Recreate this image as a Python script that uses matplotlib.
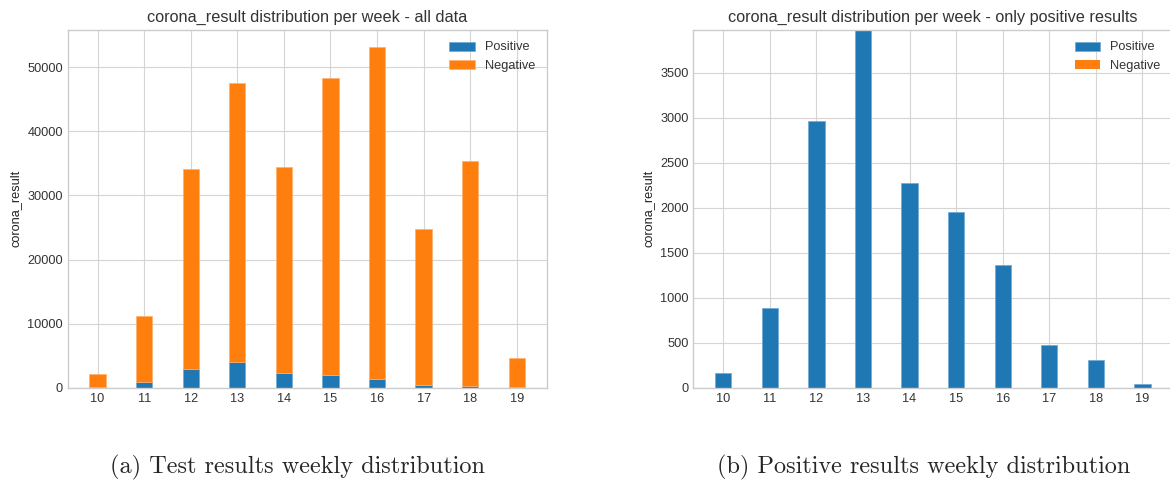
import matplotlib
matplotlib.use("Agg")
import matplotlib.pyplot as plt
import numpy as np

weeks = [10, 11, 12, 13, 14, 15, 16, 17, 18, 19]
positive = [163, 881, 2959, 3972, 2270, 1948, 1367, 474, 304, 44]
negative = [1970, 10302, 31163, 43518, 32216, 46322, 51803, 24337, 35067, 4533]
# only-positive subset: negative counts are zero
negative_pos_only = [0, 0, 0, 0, 0, 0, 0, 0, 0, 0]
titles = ["corona_result distribution per week - all data",
          "corona_result distribution per week - only positive results"]
captions = ["(a) Test results weekly distribution",
            "(b) Positive results weekly distribution"]
series_labels = ["Positive", "Negative"]
ylabel = "corona_result"

plt.style.use("seaborn-v0_8-whitegrid")
W, H = 1170, 480
fig = plt.figure(figsize=(W / 100, H / 100), dpi=100)

ax_l = fig.add_axes([67.7 / W, (H - 387.7) / H, 479 / W, 357.7 / H])
ax_r = fig.add_axes([693.3 / W, (H - 387.7) / H, 479 / W, 357.7 / H])

blue = "#1f77b4"
orange = "#ff7f0e"
fs = 9.2

for i, (ax, neg) in enumerate([(ax_l, negative), (ax_r, negative_pos_only)]):
    ax.bar(weeks, positive, width=0.35, color=blue, label=series_labels[0],
           edgecolor="#6fa8d6", linewidth=0.5)
    ax.bar(weeks, neg, width=0.35, bottom=positive, color=orange, label=series_labels[1],
           edgecolor="#ffb070", linewidth=0.5 if i == 0 else 0)
    ax.set_xticks(weeks)
    ax.tick_params(labelsize=fs, colors="#333333")
    ax.set_ylabel(ylabel, fontsize=fs, color="#222222")
    ax.set_title(titles[i], fontsize=11.7, color="#333333")
    leg = ax.legend(loc="upper right", fontsize=fs)
    for t in leg.get_texts():
        t.set_color("#333333")
    for s in ax.spines.values():
        s.set_color("#cccccc")
    ax.grid(color="#d5d5d5")

ax_r.set_ylim(0, max(positive))

fig.text(298 / W, 1 - 467 / H, captions[0], fontsize=17.5, family="cmr10",
         ha="center", va="center")
fig.text(924 / W, 1 - 467 / H, captions[1], fontsize=17.5, family="cmr10",
         ha="center", va="center")

fig.savefig("out.png", dpi=100)
